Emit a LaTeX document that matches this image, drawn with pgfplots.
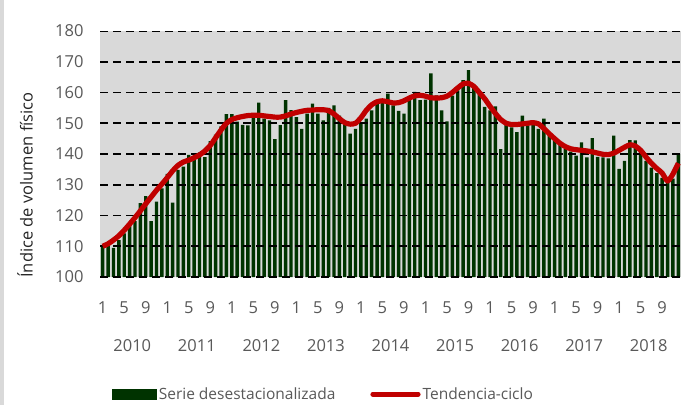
\documentclass[border=0pt]{standalone}
\usepackage{fontspec}
\setmainfont{Open Sans}
\usepackage{pgfplots}
\usepackage{pgfplotstable}
\pgfplotsset{compat=1.18}

\definecolor{barg}{HTML}{003300}
\definecolor{trend}{HTML}{C00000}
\definecolor{plotbg}{HTML}{D9D9D9}
\definecolor{txt}{HTML}{595959}

% i = month index from Jan 2010, v = seasonally adjusted, t = trend-cycle
\pgfplotstableread{
i v t
0 110.0 110.0
1 111.0 110.8
2 109.5 112.0
3 112.0 113.4
4 114.2 115.2
5 116.9 117.2
6 118.2 119.3
7 124.0 121.5
8 126.3 123.8
9 118.2 126.0
10 124.5 128.2
11 128.8 130.2
12 133.5 132.3
13 124.2 134.5
14 134.8 136.3
15 135.9 137.4
16 139.7 138.0
17 139.2 138.8
18 140.5 139.7
19 139.0 141.0
20 144.2 142.8
21 146.3 145.3
22 149.0 147.8
23 153.0 150.0
24 153.0 151.2
25 150.5 151.8
26 149.5 152.2
27 149.3 152.5
28 153.3 152.6
29 156.7 152.6
30 151.5 152.4
31 150.9 152.2
32 144.8 152.0
33 149.4 152.0
34 157.5 152.4
35 154.3 153.0
36 152.0 153.5
37 148.2 153.9
38 153.1 154.2
39 156.4 154.3
40 153.1 154.4
41 150.9 154.4
42 155.0 154.1
43 155.8 153.0
44 152.5 151.5
45 150.4 150.2
46 146.6 149.7
47 148.2 150.0
48 150.4 151.8
49 151.5 154.2
50 154.2 156.0
51 156.4 157.0
52 157.2 157.3
53 159.6 157.0
54 155.8 156.6
55 154.0 156.7
56 153.1 157.3
57 157.5 158.2
58 160.2 158.9
59 157.5 159.1
60 157.7 158.8
61 166.2 158.3
62 159.1 158.2
63 154.2 158.3
64 150.6 158.8
65 159.0 160.0
66 160.7 161.5
67 164.0 162.8
68 167.3 163.0
69 162.4 162.0
70 160.0 160.0
71 155.3 158.0
72 154.2 155.5
73 155.5 153.2
74 141.6 151.2
75 150.4 150.0
76 148.7 149.6
77 147.1 149.6
78 152.5 149.8
79 149.3 150.0
80 149.8 150.2
81 148.2 149.8
82 151.5 148.3
83 147.1 146.6
84 144.9 145.0
85 143.8 143.5
86 141.6 142.4
87 140.8 141.7
88 139.5 141.4
89 143.8 141.2
90 138.9 141.0
91 145.2 140.7
92 139.1 140.3
93 138.9 139.9
94 138.6 139.8
95 146.0 140.3
96 135.2 141.2
97 137.8 142.2
98 144.5 143.0
99 144.4 142.6
100 141.1 141.2
101 137.8 139.0
102 135.6 137.0
103 133.8 135.3
104 132.2 133.8
105 130.6 131.2
106 132.0 133.5
107 140.0 137.0
}\serie

\begin{document}
\begin{tikzpicture}[x=1pt,y=1pt]
\fill[white] (0,0) rectangle (692,405);
\fill[plotbg] (0,0) rectangle (4,405);
\begin{axis}[
  at={(100pt,128pt)}, anchor=south west,
  width=581pt, height=246pt, scale only axis,
  xmin=-0.5, xmax=107.5, ymin=100, ymax=180,
  axis background/.style={fill=plotbg},
  axis line style={draw=none},
  major tick length=0pt,
  /pgf/number format/assume math mode=true,
  ytick={100,110,...,180},
  xtick={0,4,...,104},
  xticklabels={1,5,9,1,5,9,1,5,9,1,5,9,1,5,9,1,5,9,1,5,9,1,5,9,1,5,9},
  extra x ticks={5.5,17.5,...,101.5},
  extra x tick labels={2010,2011,2012,2013,2014,2015,2016,2017,2018},
  extra x tick style={xticklabel style={yshift=-38pt}},
  tick label style={font=\fontsize{16.5}{19}\selectfont, text=txt},
  yticklabel style={xshift=-13pt},
  xticklabel style={yshift=-21pt},
  legend columns=2,
  legend style={at={(0.02,-0.476)}, anchor=west, draw=none, fill=none,
    font=\fontsize{15.5}{18}\selectfont, text=txt, inner sep=0pt,
    nodes={inner sep=2pt},
    /tikz/every even column/.append style={column sep=33pt}},
]
\addplot[ybar, bar width=3.4pt, fill=barg, draw=none,
  legend image code/.code={\fill[barg] (0pt,-5.5pt) rectangle (45pt,5.5pt);}]
  table[x=i, y=v]{\serie};
\addlegendentry{Serie desestacionalizada}
\pgfplotsinvokeforeach{100,110,...,180}{
  \addplot[black, line width=1.8pt, dash pattern=on 8pt off 5pt, forget plot]
    coordinates {(-0.5,#1) (107.5,#1)};
}
\addplot[trend, line width=5.2pt, smooth, tension=0.4, line join=round,
  legend image code/.code={\draw[trend, line width=5.2pt, line cap=round] (2pt,0pt) -- (47pt,0pt);}]
  table[x=i, y=t]{\serie};
\addlegendentry{Tendencia-ciclo}
\end{axis}
\node[rotate=90, font=\fontsize{16.5}{19}\selectfont, text=black!85] at (25,220) {Índice de volumen físico};
\pgfresetboundingbox
\path (0,0) rectangle (692,405);
\end{tikzpicture}
\end{document}
